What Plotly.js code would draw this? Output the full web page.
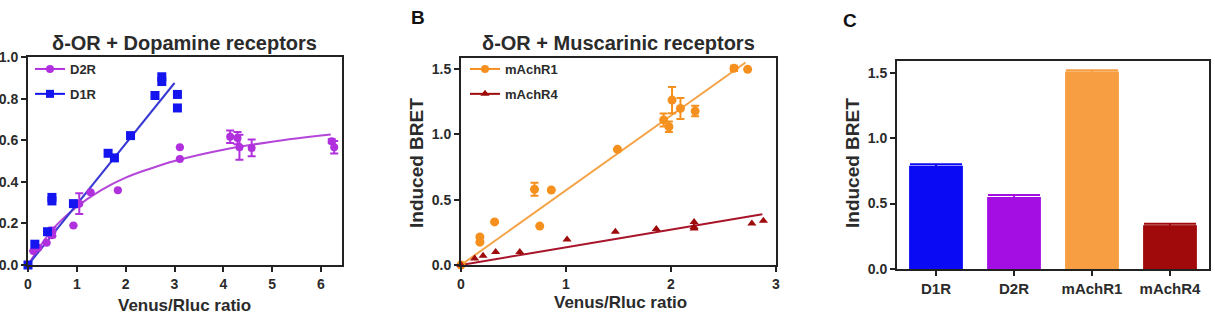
<!DOCTYPE html>
<html>
<head>
<meta charset="utf-8">
<script src="https://cdn.plot.ly/plotly-3.0.1.min.js"></script>
<style>
  html, body { margin: 0; padding: 0; background: #fff; }
  #chart { width: 1215px; height: 321px; }
</style>
</head>
<body>
<div id="chart"></div>
<script>
// ---- Panel A: δ-OR + dopamine receptors (BRET saturation) ----
const d1rX = [0, 0.14, 0.40, 0.49, 0.49, 0.93, 1.64, 1.77, 2.10, 2.60, 2.74, 2.74, 3.06, 3.06];
const d1rY = [0, 0.10, 0.16, 0.325, 0.308, 0.295, 0.537, 0.515, 0.622, 0.815, 0.905, 0.882, 0.82, 0.755];
const d1rFitX = [0, 3.0];
const d1rFitY = [0, 0.875];

const d2rX = [0, 0.11, 0.21, 0.38, 0.49, 0.50, 0.93, 1.05, 1.28, 1.84, 3.11, 3.11, 4.14, 4.29, 4.33, 4.58, 6.22, 6.27];
const d2rY = [0, 0.067, 0.083, 0.107, 0.143, 0.16, 0.19, 0.295, 0.35, 0.359, 0.566, 0.51, 0.617, 0.61, 0.566, 0.563, 0.595, 0.566];
const d2rErr = [0, 0, 0, 0, 0.01, 0.02, 0, 0.05, 0, 0, 0, 0, 0.03, 0.03, 0.06, 0.04, 0.01, 0.03];
const d2rFitX = [0, 0.5, 1.0, 1.5, 2.0, 2.5, 3.0, 4.0, 5.0, 6.2];
const d2rFitY = [0, 0.17, 0.28, 0.36, 0.42, 0.463, 0.50, 0.554, 0.593, 0.627];

// ---- Panel B: δ-OR + muscarinic receptors ----
const m1X = [0, 0.18, 0.18, 0.32, 0.70, 0.75, 0.86, 1.49, 1.93, 1.98, 2.01, 2.09, 2.23, 2.60, 2.73];
const m1Y = [0, 0.215, 0.175, 0.33, 0.58, 0.298, 0.574, 0.885, 1.11, 1.058, 1.262, 1.198, 1.178, 1.505, 1.497];
const m1Err = [0, 0, 0, 0, 0.05, 0, 0, 0, 0.05, 0.04, 0.1, 0.08, 0.04, 0.02, 0];
const m1FitX = [0, 2.71];
const m1FitY = [0, 1.55];

const m4X = [0, 0.13, 0.21, 0.33, 0.56, 1.01, 1.47, 1.86, 2.22, 2.22, 2.22, 2.77, 2.88];
const m4Y = [0, 0.05, 0.07, 0.10, 0.10, 0.196, 0.255, 0.276, 0.33, 0.29, 0.28, 0.318, 0.339];
const m4FitX = [0, 2.87];
const m4FitY = [0, 0.388];

// ---- Panel C: maximal induced BRET ----
const barCats = ['D1R', 'D2R', 'mAchR1', 'mAchR4'];
const barVals = [0.79, 0.55, 1.51, 0.335];
const barErr = [0.01, 0.015, 0.01, 0.01];
const barColors = ['#0A0AF5', '#A50EE2', '#F89E42', '#A00A0A'];

const COL = {
  d1r: '#1414EE', d1rLine: '#3838D2',
  d2r: '#B030DE', d2rLine: '#B446DA',
  m1: '#F5901E', m1Line: '#F5A347',
  m4: '#9E0B0B', m4Line: '#A8142A'
};
const TXT = '#2b2b2b';
const FONT = 'Liberation Sans, Arial, sans-serif';

const W = 1215, H = 321;
const px = v => v / W;
const py = v => (H - v) / H;

function pts(x, y, color, symbol, size, xa, ya, err) {
  const t = {
    x, y, xaxis: xa, yaxis: ya, type: 'scatter', mode: 'markers', showlegend: false,
    cliponaxis: false,
    marker: { color, symbol, size }
  };
  if (err) t.error_y = { type: 'data', array: err, visible: true, color, thickness: 2, width: 4 };
  return t;
}
function fit(x, y, color, xa, ya, shape) {
  return { x, y, xaxis: xa, yaxis: ya, type: 'scatter', mode: 'lines', showlegend: false,
    line: { color, width: 2, shape: shape || 'linear', smoothing: 1 }, hoverinfo: 'skip' };
}
function key(name, color, symbol, legend) {
  return { x: [null], y: [null], type: 'scatter', mode: 'lines+markers', name, legend,
    legendgroup: name,
    line: { color, width: 2 }, marker: { color, symbol, size: 8 }, xaxis: 'x', yaxis: 'y' };
}

const traces = [
  fit(d2rFitX, d2rFitY, COL.d2rLine, 'x', 'y', 'spline'),
  fit(d1rFitX, d1rFitY, COL.d1rLine, 'x', 'y'),
  pts(d2rX, d2rY, COL.d2r, 'circle', 8, 'x', 'y', d2rErr),
  pts(d1rX, d1rY, COL.d1r, 'square', 9, 'x', 'y'),
  key('D2R', COL.d2r, 'circle', 'legend'),
  key('D1R', COL.d1r, 'square', 'legend'),

  fit(m1FitX, m1FitY, COL.m1Line, 'x2', 'y2'),
  fit(m4FitX, m4FitY, COL.m4Line, 'x2', 'y2'),
  pts(m1X, m1Y, COL.m1, 'circle', 9, 'x2', 'y2', m1Err),
  pts(m4X, m4Y, COL.m4, 'triangle-up', 8, 'x2', 'y2'),
  key('mAchR1', COL.m1, 'circle', 'legend2'),
  key('mAchR4', COL.m4, 'triangle-up', 'legend2')
];

// one bar trace per receptor so each error cap takes the bar's colour
barCats.forEach((c, i) => {
  traces.push({
    x: [c], y: [barVals[i]], xaxis: 'x3', yaxis: 'y3', type: 'bar', showlegend: false,
    width: 0.69,
    marker: { color: barColors[i] },
    error_y: { type: 'data', array: [barErr[i]], visible: true, color: barColors[i], thickness: 2, width: 26 }
  });
});

const axisBase = {
  showline: true, linecolor: '#222', linewidth: 2, mirror: true,
  ticks: 'outside', ticklen: 5, tickwidth: 2, tickcolor: '#222',
  showgrid: false, zeroline: false, automargin: false,
  tickfont: { family: FONT, size: 14, color: TXT, weight: 'bold' }
};

function label(text, x, y, size, extra) {
  return Object.assign({
    text, x: px(x), y: py(y), xref: 'paper', yref: 'paper', showarrow: false,
    xanchor: 'center', yanchor: 'middle',
    font: { family: FONT, size, color: TXT, weight: 'bold' }
  }, extra || {});
}

const legendBase = {
  xanchor: 'left', yanchor: 'top', bgcolor: 'rgba(0,0,0,0)',
  font: { family: FONT, size: 13, color: TXT, weight: 'bold' }, tracegroupgap: 5
};

const layout = {
  width: W, height: H,
  margin: { l: 0, r: 0, t: 0, b: 0 },
  paper_bgcolor: '#fff', plot_bgcolor: '#fff',
  showlegend: true,
  barmode: 'overlay',
  xaxis: Object.assign({}, axisBase, { domain: [px(28), px(342)], range: [0, 6.43], tickvals: [0, 1, 2, 3, 4, 5, 6], anchor: 'y' }),
  yaxis: Object.assign({}, axisBase, { domain: [py(265), py(57)], range: [0, 1.0], tickvals: [0, 0.2, 0.4, 0.6, 0.8, 1.0], tickformat: '.1f', anchor: 'x' }),
  xaxis2: Object.assign({}, axisBase, { domain: [px(461), px(776)], range: [0, 3], tickvals: [0, 1, 2, 3], anchor: 'y2' }),
  yaxis2: Object.assign({}, axisBase, { domain: [py(265), py(58)], range: [0, 1.584], tickvals: [0, 0.5, 1.0, 1.5], tickformat: '.1f', anchor: 'x2' }),
  xaxis3: Object.assign({}, axisBase, { domain: [px(897), px(1209)], range: [-0.5, 3.5], anchor: 'y3',
    tickfont: { family: FONT, size: 15, color: TXT, weight: 'bold' } }),
  yaxis3: Object.assign({}, axisBase, { domain: [py(269), py(61)], range: [0, 1.59], tickvals: [0, 0.5, 1.0, 1.5], tickformat: '.1f', anchor: 'x3' }),
  legend: Object.assign({}, legendBase, { x: px(30), y: py(54) }),
  legend2: Object.assign({}, legendBase, { x: px(465), y: py(54) }),
  annotations: [
    label('δ-OR + Dopamine receptors', 184, 43, 20),
    label('Venus/Rluc ratio', 184, 305, 17),
    label('B', 418, 17, 18, { font: { family: FONT, size: 19, color: '#111', weight: 'bold' } }),
    label('δ-OR + Muscarinic receptors', 618, 43, 20),
    label('Venus/Rluc ratio', 620, 302, 17),
    label('Induced BRET', 417, 163, 19, { textangle: -90 }),
    label('C', 850, 20, 18, { font: { family: FONT, size: 19, color: '#111', weight: 'bold' } }),
    label('Induced BRET', 853, 163, 19, { textangle: -90 })
  ]
};

Plotly.newPlot('chart', traces, layout, { displayModeBar: false, staticPlot: true });
</script>
</body>
</html>
